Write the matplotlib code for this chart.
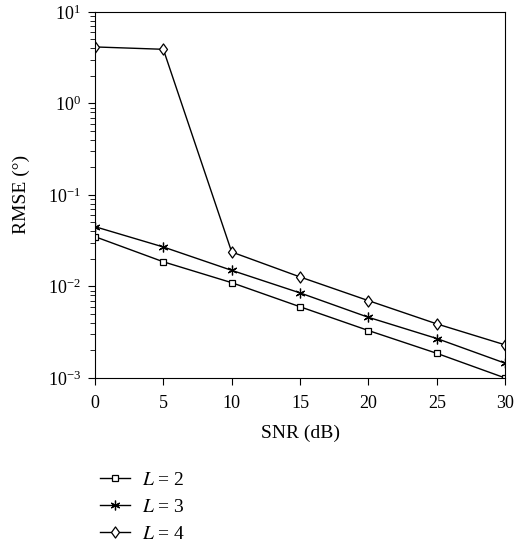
import matplotlib
matplotlib.use("Agg")
import matplotlib.pyplot as plt
from matplotlib.path import Path

plt.rcParams['font.family'] = ['Liberation Serif', 'DejaVu Serif']
plt.rcParams['mathtext.fontset'] = 'stix'

snr = [0, 5, 10, 15, 20, 25, 30]
rmse_l2 = [0.035, 0.0186, 0.011, 0.006, 0.0033, 0.00186, 0.001]
rmse_l3 = [0.045, 0.027, 0.015, 0.0085, 0.0046, 0.0027, 0.00145]
rmse_l4 = [4.14, 3.9, 0.0238, 0.0127, 0.0070, 0.0039, 0.0023]
labels = ['$L$ = 2', '$L$ = 3', '$L$ = 4']

# diamond a bit narrower than tall
diamond = Path([(0, 1), (0.72, 0), (0, -1), (-0.72, 0), (0, 1)],
               [Path.MOVETO, Path.LINETO, Path.LINETO, Path.LINETO, Path.CLOSEPOLY])

fig = plt.figure(figsize=(5.16, 5.42), dpi=100)
ax = fig.add_axes([0.184, 0.3026, 0.795, 0.6755])

style = dict(color='black', lw=1.0, mfc='white', mec='black', mew=0.9)
h2, = ax.plot(snr, rmse_l2, marker='s', ms=5, label=labels[0], **style)
h3, = ax.plot(snr, rmse_l3, marker=(6, 2, 0), ms=7, label=labels[1], **style)
h4, = ax.plot(snr, rmse_l4, marker=diamond, ms=8, label=labels[2], **style)

ax.set_yscale('log')
ax.set_xlim(0, 30)
ax.set_ylim(1e-3, 1e1)
ax.set_xticks(snr)
ax.tick_params(which='both', direction='out', labelsize=13, color='black')
ax.tick_params(which='major', length=5)
ax.tick_params(which='minor', length=3.5)
ax.tick_params(axis='x', pad=7.5)
ax.tick_params(axis='y', pad=5)
ax.set_xlabel('SNR (dB)', fontsize=14, labelpad=9)
ax.set_ylabel('RMSE (°)', fontsize=14, labelpad=13)

fig.legend(handles=[h2, h3, h4], loc='upper left', bbox_to_anchor=(100 / 516, 0.131),
           frameon=False, fontsize=14, handlelength=1.55, handletextpad=0.6,
           labelspacing=0.5, borderpad=0, borderaxespad=0)

fig.savefig('out.png', dpi=100)
